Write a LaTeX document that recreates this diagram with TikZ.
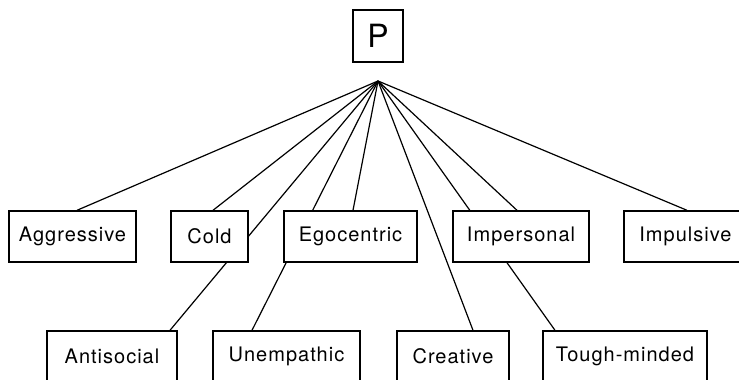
\documentclass[tikz,border=0pt]{standalone}
\usepackage{fontspec}
\setmainfont{TeX Gyre Heros}[LetterSpace=5]
\usetikzlibrary{backgrounds}

\tikzset{
  trait/.style={draw=black, fill=white, line width=1.4pt, minimum height=51pt, inner sep=0pt, font=\fontsize{20}{22}\selectfont},
  factor/.style={trait, minimum width=50pt, minimum height=52pt, font=\fontsize{32}{34}\selectfont},
  link/.style={draw=black, line width=1.2pt},
}

\begin{document}
\begin{tikzpicture}[x=1pt,y=1pt]
  \useasboundingbox (0,0) rectangle (739,380);

  \node[factor] (P) at (378,344) {P};
  \coordinate (hub) at (378,299);

  % first row of traits
  \node[trait, minimum width=127pt] (aggressive) at (72.5,143.5) {Aggressive};
  \node[trait, minimum width=77pt] (cold) at (209.5,143.5) {Cold};
  \node[trait, minimum width=133pt] (egocentric) at (350.5,143.5) {Egocentric};
  \node[trait, minimum width=136pt] (impersonal) at (521,143.5) {Impersonal};
  \node[trait, minimum width=123pt] (impulsive) at (685.5,143.5) {Impulsive};

  % second row of traits
  \node[trait, minimum width=130pt] (antisocial) at (112,23.5) {Antisocial};
  \node[trait, minimum width=147pt] (unempathic) at (286.5,23.5) {Unempathic};
  \node[trait, minimum width=112pt] (creative) at (453,23.5) {Creative};
  \node[trait, minimum width=164pt] (toughminded) at (625,23.5) {Tough-minded};

  \begin{scope}[on background layer]
    \draw[link] (hub) -- ([xshift=4.5pt]aggressive.north);
    \draw[link] (hub) -- ([xshift=3.5pt]cold.north);
    \draw[link] (hub) -- ([xshift=58pt]antisocial.north);
    \draw[link] (hub) -- ([xshift=2.5pt]egocentric.north);
    \draw[link] (hub) -- ([xshift=-34.5pt]unempathic.north);
    \draw[link] (hub) -- ([xshift=20pt]creative.north);
    \draw[link] (hub) -- ([xshift=-4pt]impersonal.north);
    \draw[link] (hub) -- ([xshift=-70pt]toughminded.north);
    \draw[link] (hub) -- ([xshift=1.5pt]impulsive.north);
  \end{scope}
\end{tikzpicture}
\end{document}
